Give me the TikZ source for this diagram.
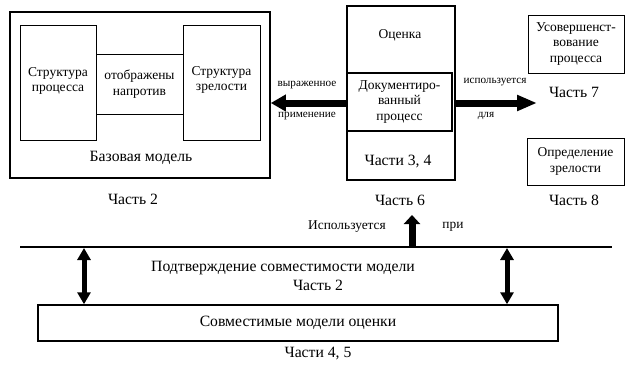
\documentclass[tikz,border=0pt]{standalone}
\usepackage{fontspec}
\setmainfont{Liberation Serif}
\usetikzlibrary{arrows.meta}
\begin{document}
\begin{tikzpicture}[x=1pt,y=-1pt,
  box/.style={draw,line width=1pt,inner sep=0pt,align=center,font=\fontsize{13.5}{15.5}\selectfont},
  thickbox/.style={box,line width=1.6pt},
  lbl/.style={inner sep=0pt,align=center,font=\fontsize{13.5}{15.5}\selectfont},
  big/.style={inner sep=0pt,align=center,font=\fontsize{15.7}{18}\selectfont},
  small/.style={inner sep=0pt,font=\fontsize{11.2}{13}\selectfont},
  mid/.style={inner sep=0pt,font=\fontsize{13.4}{15}\selectfont},
  bigarrow/.style={line width=7pt,-{Triangle[length=15pt,width=16pt]}},
  bigarrowB/.style={line width=7pt,-{Triangle[length=20pt,width=15pt]}},
  uparrow/.style={line width=7pt,-{Triangle[length=9pt,width=16pt]}},
  dblarrow/.style={line width=5pt,{Triangle[length=12pt,width=13pt]}-{Triangle[length=12pt,width=13pt]}}
]
\useasboundingbox (0,0) rectangle (632,372);
% base model
\node[thickbox,minimum width=260pt,minimum height=166pt] (base) at (140,95) {};
\node[box,minimum width=76pt,minimum height=115pt] (sp) at (58,82.5) {};
\node[lbl] (spt) at (58,81) {Структура\\процесса};
\node[box,minimum width=87pt,minimum height=60pt] (map) at (139.5,84) {отображены\\напротив};
\node[box,minimum width=77pt,minimum height=115pt] (sz) at (221.5,82.5) {};
\node[lbl] (szt) at (221.5,80) {Структура\\зрелости};
\node[big] (bm) at (141,158) {Базовая модель};
\node[big] (p2) at (133,199) {Часть 2};
% assessment
\node[thickbox,minimum width=108pt,minimum height=174pt] (oc) at (401,93) {};
\node[lbl] (oct) at (400,35) {Оценка};
\node[thickbox,minimum width=105pt,minimum height=58pt] (dok) at (399.5,102) {Документиро-\\ванный\\процесс};
\node[big] (p34) at (398,162) {Части 3, 4};
\node[big] (p6) at (400,200) {Часть 6};
% right boxes
\node[box,minimum width=96pt,minimum height=58pt] (usov) at (576,44) {Усовершенст-\\вование\\процесса};
\node[big] (p7) at (574,92) {Часть 7};
\node[box,minimum width=97pt,minimum height=47pt] (opr) at (575.5,161.5) {Определение\\зрелости};
\node[big] (p8) at (574,200) {Часть 8};
% arrows between
\draw[bigarrow] (oc.west |- 0,103) -- (base.east |- 0,103);
\node[small] (vyr) at (307,85) {выраженное};
\node[small] (prim) at (307,116) {применение};
\coordinate (rt) at (537,103);
\draw[bigarrowB] (oc.east |- rt) -- (rt);
\node[small] (isp) at (495,82) {используется};
\node[small] (dlya) at (486,116) {для};
% bottom
\coordinate (L1) at (20,247);
\coordinate (L2) at (612,247);
\draw[line width=1.5pt] (L1) -- (L2);
\node[box,line width=1.5pt,minimum width=520pt,minimum height=36pt,font=\fontsize{15.7}{18}\selectfont] (cm) at (298,323) {Совместимые модели оценки};
\node[big] (p45) at (318,354) {Части 4, 5};
\node[big] (pod) at (283,268) {Подтверждение совместимости модели};
\node[big] (p2b) at (318,285) {Часть 2};
\coordinate (a1) at (84,248);
\coordinate (a2) at (507,248);
\draw[dblarrow] (a1) -- (a1 |- cm.north);
\draw[dblarrow] (a2) -- (a2 |- cm.north);
\coordinate (u0) at (412,247);
\coordinate (u1) at (412,215);
\draw[uparrow] (u0) -- (u1);
\node[mid] (isp2) at (347,227) {Используется};
\node[mid] (pri) at (453,227) {при};
\end{tikzpicture}
\end{document}
